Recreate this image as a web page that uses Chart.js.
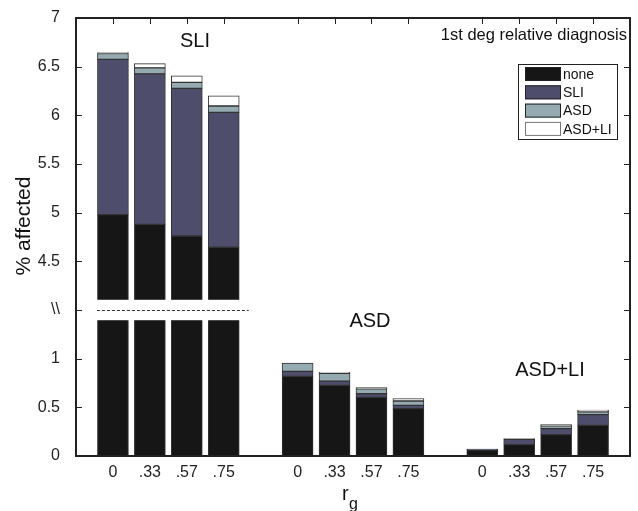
<!DOCTYPE html>
<html>
<head>
<meta charset="utf-8">
<script src="https://cdn.jsdelivr.net/npm/chart.js@4.4.0/dist/chart.umd.min.js"></script>
<style>
html, body { margin: 0; padding: 0; background: #fff; }
</style>
</head>
<body>
<canvas id="chart" width="638" height="511"></canvas>
<script>
// Values (% affected), 4 r_g levels per proband group
const groupNames = ['SLI', 'ASD', 'ASD+LI'];
const rgLabels = ['0', '.33', '.57', '.75'];
const seriesNames = ['none', 'SLI', 'ASD', 'ASD+LI'];
const yTickLabels = ['0', '0.5', '1', '\\\\', '4.5', '5', '5.5', '6', '6.5', '7'];

const noneVals  = [4.98, 4.88, 4.76, 4.645, 0.818, 0.726, 0.603, 0.487, 0.06, 0.117, 0.22, 0.315];
const sliVals   = [1.595, 1.546, 1.517, 1.386, 0.052, 0.044, 0.037, 0.033, 0.01, 0.055, 0.061, 0.11];
const asdVals   = [0.06, 0.061, 0.062, 0.065, 0.085, 0.08, 0.05, 0.045, 0.002, 0.006, 0.029, 0.03];
const asdliVals = [0.01, 0.045, 0.068, 0.105, 0, 0.01, 0.012, 0.024, 0, 0, 0.012, 0.017];

// broken y axis: 0..1.5 below the break, 4..7 above it
const breakLow = 1.395;
const breakHigh = 4.105;

const colors = ['#161616', '#4e4e6c', '#95abb1', '#ffffff'];
const FONT = "'Liberation Sans', Arial, Helvetica, sans-serif";

function toUnit(v) {
    return v <= 1.5 ? v * 2 : v * 2 - 5;
}

// 16 slots on x: empty slot at each end and between the groups
const labels = [''];
groupNames.forEach((g, gi) => {
    rgLabels.forEach(l => labels.push(l));
    labels.push('');
});

const allSeries = [noneVals, sliVals, asdVals, asdliVals];
const cum = noneVals.map(() => 0);
const datasets = allSeries.map((vals, si) => {
    const data = [null];
    vals.forEach((v, i) => {
        const lo = cum[i];
        const hi = cum[i] + v;
        cum[i] = hi;
        data.push(v > 0 ? [toUnit(lo), toUnit(hi)] : null);
        if (i % 4 === 3) data.push(null);
    });
    return {
        label: seriesNames[si],
        data: data,
        backgroundColor: colors[si],
        borderColor: '#333',
        borderWidth: 1,
        borderSkipped: false,
        barThickness: 31
    };
});

const decor = {
    id: 'decor',
    afterDatasetsDraw(chart) {
        const { ctx, chartArea: a, scales: { x, y } } = chart;
        ctx.save();

        // axis break over the SLI group
        const bx0 = x.getPixelForValue(1) - 17;
        const bx1 = x.getPixelForValue(4) + 17;
        const yb1 = y.getPixelForValue(toUnit(breakHigh));
        const yb0 = y.getPixelForValue(toUnit(breakLow));
        ctx.fillStyle = '#fff';
        ctx.fillRect(bx0, yb1, bx1 - bx0, yb0 - yb1);
        ctx.strokeStyle = '#333';
        ctx.lineWidth = 1;
        ctx.setLineDash([3, 2]);
        ctx.beginPath();
        const yd = Math.round(y.getPixelForValue(3)) + 0.5;
        ctx.moveTo(x.getPixelForValue(1) - 16, yd);
        ctx.lineTo(x.getPixelForValue(4) + 25, yd);
        ctx.stroke();
        ctx.setLineDash([]);

        // frame and inward ticks
        ctx.strokeStyle = '#222';
        ctx.lineWidth = 2;
        ctx.strokeRect(a.left, a.top, a.right - a.left, a.bottom - a.top);
        ctx.lineWidth = 1;
        ctx.beginPath();
        yTickLabels.forEach((t, i) => {
            const py = Math.round(y.getPixelForValue(i)) + 0.5;
            ctx.moveTo(a.left, py); ctx.lineTo(a.left + 6, py);
            ctx.moveTo(a.right, py); ctx.lineTo(a.right - 6, py);
        });
        labels.forEach((l, i) => {
            if (!l) return;
            const px = Math.round(x.getPixelForValue(i)) + 0.5;
            ctx.moveTo(px, a.top); ctx.lineTo(px, a.top + 6);
        });
        ctx.stroke();

        // group names and note
        ctx.fillStyle = '#111';
        ctx.textBaseline = 'middle';
        ctx.textAlign = 'center';
        ctx.font = '20px ' + FONT;
        ctx.fillText('SLI', 195, 41);
        ctx.fillText('ASD', 370, 321);
        ctx.fillText('ASD+LI', 550, 370);
        ctx.textAlign = 'right';
        ctx.font = '16.5px ' + FONT;
        ctx.fillText('1st deg relative diagnosis', a.right - 3, 35);

        // legend
        const lx = 518, ly = 64, lw = 99, lh = 75;
        ctx.fillStyle = '#fff';
        ctx.fillRect(lx, ly, lw, lh);
        ctx.strokeStyle = '#222';
        ctx.strokeRect(lx + 0.5, ly + 0.5, lw, lh);
        ctx.font = '14px ' + FONT;
        ctx.textAlign = 'left';
        seriesNames.forEach((n, i) => {
            const sy = ly + 3 + i * 18.3;
            ctx.fillStyle = colors[i];
            ctx.fillRect(lx + 7, sy, 36, 14);
            ctx.strokeStyle = i === 3 ? '#777' : '#222';
            ctx.strokeRect(lx + 7.5, sy + 0.5, 35, 13);
            ctx.fillStyle = '#111';
            ctx.fillText(n, lx + 45, sy + 8);
        });

        // axis titles
        ctx.textAlign = 'left';
        ctx.textBaseline = 'alphabetic';
        ctx.font = '20px ' + FONT;
        ctx.fillText('r', 342, 500);
        ctx.font = '16px ' + FONT;
        ctx.fillText('g', 349, 509);

        ctx.translate(24, 226);
        ctx.rotate(-Math.PI / 2);
        ctx.textAlign = 'center';
        ctx.textBaseline = 'middle';
        ctx.font = '21px ' + FONT;
        ctx.fillText('% affected', 0, 0);
        ctx.restore();
    }
};

Chart.defaults.color = '#222';
Chart.defaults.font.family = FONT;

new Chart(document.getElementById('chart'), {
    type: 'bar',
    data: { labels: labels, datasets: datasets },
    options: {
        responsive: false,
        animation: false,
        layout: { padding: { top: 18, right: 8, left: 0, bottom: 0 } },
        datasets: { bar: { grouped: false } },
        plugins: {
            legend: { display: false },
            tooltip: { enabled: false }
        },
        scales: {
            x: {
                offset: false,
                min: 0,
                grid: { display: false },
                border: { display: false },
                ticks: {
                    autoSkip: false,
                    maxRotation: 0,
                    padding: -1,
                    font: { size: 16 }
                },
                afterFit(scale) { scale.height = 55; }
            },
            y: {
                min: 0,
                max: 9,
                grid: { display: false },
                border: { display: false },
                ticks: {
                    stepSize: 1,
                    padding: 8,
                    font: { size: 16 },
                    callback: v => yTickLabels[v]
                },
                afterFit(scale) { scale.width = 76; }
            }
        }
    },
    plugins: [decor]
});
</script>
</body>
</html>
